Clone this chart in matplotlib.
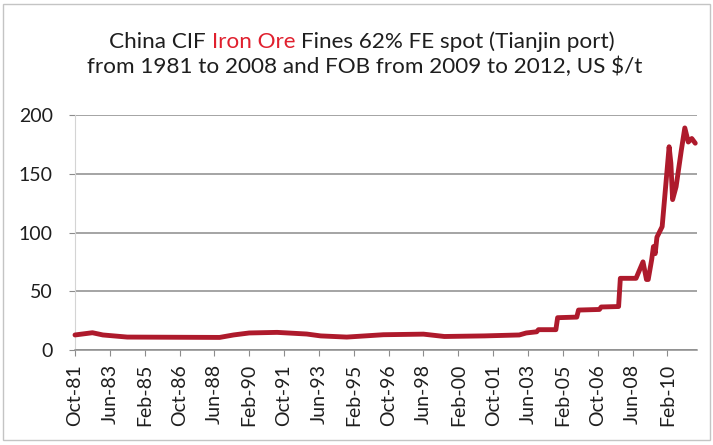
import matplotlib
matplotlib.use("Agg")
import matplotlib.pyplot as plt
import pandas as pd
from matplotlib.patches import Rectangle

# ---- data ----
dates = ["1981-10", "1982-08", "1983-02", "1984-04", "1988-09", "1989-05", "1990-02",
         "1991-06", "1992-11", "1993-07", "1994-10", "1996-07", "1998-06", "1999-06",
         "2001-05", "2003-01", "2003-05", "2003-11", "2003-12", "2004-10", "2004-11",
         "2005-10", "2005-11", "2006-11", "2006-12", "2007-10", "2007-11", "2008-08",
         "2008-10", "2008-12", "2009-02", "2009-03", "2009-05", "2009-06", "2009-07",
         "2009-08", "2009-11", "2010-03", "2010-04", "2010-05", "2010-07", "2010-10",
         "2010-12", "2011-02", "2011-04", "2011-06"]
prices = [12.8, 14.7, 12.8, 11.0, 10.7, 12.8, 14.5, 15.0, 13.6, 12.0,
          11.0, 13.0, 13.5, 11.5, 12.0, 12.8, 14.5, 15.5, 17.3, 17.3,
          27.5, 28.0, 34.0, 34.5, 36.6, 37.0, 61.0, 61.0, 68.0, 75.0,
          60.0, 60.0, 77.0, 88.0, 82.0, 96.0, 105.0, 173.0, 159.0, 128.0,
          139.0, 170.0, 189.0, 177.0, 180.0, 176.0]
tick_labels = ["Oct-81", "Jun-83", "Feb-85", "Oct-86", "Jun-88", "Feb-90", "Oct-91",
               "Jun-93", "Feb-95", "Oct-96", "Jun-98", "Feb-00", "Oct-01", "Jun-03",
               "Feb-05", "Oct-06", "Jun-08", "Feb-10"]
y_ticks = [0, 50, 100, 150, 200]
title_line1 = ["China CIF", "Iron Ore", "Fines 62% FE spot (Tianjin port)"]
title_line2 = "from 1981 to 2008 and FOB from 2009 to 2012, US $/t"

start = pd.Period("1981-10", freq="M")


def month_index(s):
    return (pd.Period(s, freq="M") - start).n


x = [month_index(d) for d in dates]
tick_pos = [month_index(pd.to_datetime(l, format="%b-%y").strftime("%Y-%m")) for l in tick_labels]

# ---- style ----
FONT = "Lato"
TXT = "#1E1E1E"
GRID = "#8C8C8C"
LINE = "#AE1A2C"
RED = "#E0202E"
W, H = 713, 445

fig = plt.figure(figsize=(W / 100, H / 100), dpi=100)
fig.patch.set_facecolor("white")

fig.patches.append(Rectangle((3 / W, 1 - 440 / H), (710 - 3) / W, (440 - 4) / H,
                             transform=fig.transFigure, fill=False,
                             edgecolor="#C4C4C4", lw=1.0))

ax = fig.add_axes([75 / W, 1 - 350 / H, (697 - 75) / W, (350 - 115) / H])
ax.plot(x, prices, color=LINE, lw=3.5, solid_joinstyle="round",
        solid_capstyle="round", clip_on=False, zorder=3)

ax.set_xlim(0, 357)
ax.set_ylim(0, 200)
ax.set_yticks(y_ticks)
ax.set_xticks(tick_pos)
ax.set_xticklabels(tick_labels, rotation=90, family=FONT, fontsize=14, color=TXT)
ax.set_yticklabels([str(v) for v in y_ticks], family=FONT, fontsize=14, color=TXT)
ax.yaxis.grid(True, color=GRID, lw=1.1)
ax.set_axisbelow(True)
for s in ["top", "right"]:
    ax.spines[s].set_visible(False)
ax.spines["left"].set_color("#D4D4D4")
ax.spines["bottom"].set_color(GRID)
ax.spines["bottom"].set_linewidth(1.1)
ax.tick_params(axis="x", direction="out", length=4, color=GRID, pad=6)
ax.tick_params(axis="y", direction="out", length=4, color=GRID, pad=12)

# ---- title (multi-coloured first line) ----
fig.canvas.draw()
r = fig.canvas.get_renderer()
fs = 16.2


def width_px(s):
    t = fig.text(0, 0, s, family=FONT, fontsize=fs)
    w = t.get_window_extent(r).width
    t.remove()
    return w


full1 = " ".join(title_line1)
w_full = width_px(full1)
cx = 362
x0 = cx - w_full / 2
y1 = 1 - 48 / H
pos_a = x0
pos_b = x0 + width_px(title_line1[0] + " " + title_line1[1]) - width_px(title_line1[1])
pos_c = x0 + w_full - width_px(title_line1[2])
for s, px, c in [(title_line1[0], pos_a, TXT), (title_line1[1], pos_b, RED),
                 (title_line1[2], pos_c, TXT)]:
    fig.text(px / W, y1, s, family=FONT, fontsize=fs, color=c, va="baseline", ha="left")

fig.text(365 / W, 1 - 73 / H, title_line2, family=FONT, fontsize=fs, color=TXT,
         va="baseline", ha="center")

fig.savefig("out.png", dpi=100, facecolor="white")
